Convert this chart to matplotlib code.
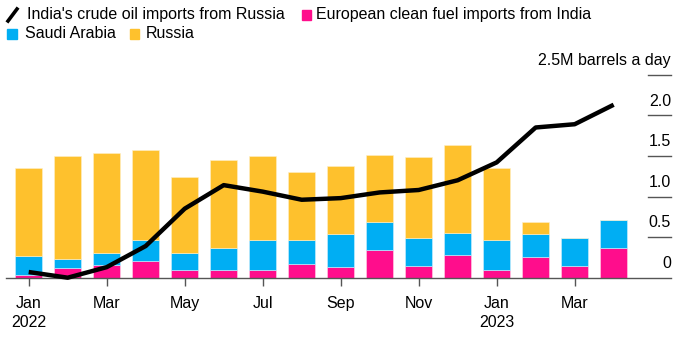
import matplotlib
matplotlib.use("Agg")
import matplotlib.pyplot as plt
import matplotlib.transforms as mtransforms
from matplotlib.lines import Line2D
from matplotlib.patches import Rectangle
import numpy as np

plt.rcParams['font.family'] = ['Liberation Sans', 'DejaVu Sans']

months = ['Jan 2022', 'Feb', 'Mar', 'Apr', 'May', 'Jun', 'Jul', 'Aug', 'Sep',
          'Oct', 'Nov', 'Dec', 'Jan 2023', 'Feb', 'Mar', 'Apr']
# million barrels a day
india_clean = [0.03, 0.12, 0.16, 0.20, 0.10, 0.09, 0.10, 0.17, 0.13, 0.34, 0.15, 0.28, 0.10, 0.25, 0.15, 0.36]
saudi = [0.24, 0.11, 0.15, 0.27, 0.21, 0.27, 0.36, 0.30, 0.41, 0.34, 0.34, 0.27, 0.36, 0.29, 0.34, 0.35]
russia = [1.08, 1.27, 1.22, 1.10, 0.93, 1.09, 1.04, 0.83, 0.83, 0.83, 1.00, 1.08, 0.89, 0.14, 0.0, 0.0]
india_crude_russia = [0.07, 0.00, 0.13, 0.39, 0.85, 1.14, 1.06, 0.96, 0.98, 1.05, 1.08, 1.20, 1.42, 1.85, 1.89, 2.13]

tick_pos = [0, 2, 4, 6, 8, 10, 12, 14]
tick_labels = ['Jan\n2022', 'Mar', 'May', 'Jul', 'Sep', 'Nov', 'Jan\n2023', 'Mar']
y_ticks = [0, 0.5, 1.0, 1.5, 2.0, 2.5]
y_labels = ['0', '0.5', '1.0', '1.5', '2.0', '2.5M barrels a day']

PINK = '#FF0D8C'
BLUE = '#00AEF3'
YELLOW = '#FEC12D'
FS = 11.5

W, H = 700, 338
fig = plt.figure(figsize=(7, 3.38), dpi=100)
ax = fig.add_axes([5.7 / W, 1 - 277.7 / H, 665.3 / W, 203 / H])

x = np.arange(len(months))
a = np.array(india_clean)
b = np.array(saudi)
c = np.array(russia)
ax.bar(x, a, width=0.7, color=PINK, edgecolor='#ffd6ea', linewidth=0.4, zorder=2)
ax.bar(x, b, width=0.7, bottom=a, color=BLUE, edgecolor='#d0f0ff', linewidth=0.4, zorder=2)
ax.bar(x, c, width=0.7, bottom=a + b, color=YELLOW, edgecolor='#fff0c8', linewidth=0.4, zorder=2)
ax.plot(x, india_crude_russia, color='black', lw=3.2, solid_joinstyle='round',
        solid_capstyle='butt', zorder=4, clip_on=False)

ax.set_xlim(-0.59, 16.47)
ax.set_ylim(0, 2.5)
for s in ['top', 'right', 'left']:
    ax.spines[s].set_visible(False)
ax.spines['bottom'].set_color('#555555')
ax.spines['bottom'].set_linewidth(1.0)
ax.set_yticks([])
ax.set_xticks(tick_pos)
ax.set_xticklabels(tick_labels, fontsize=FS, linespacing=1.3)
ax.tick_params(axis='x', length=6, width=1, color='#555555', pad=7.5)

trans = mtransforms.blended_transform_factory(ax.transAxes, ax.transData)
for v, lab in zip(y_ticks, y_labels):
    if v > 0:
        ax.plot([0.965, 1.0], [v, v], transform=trans, color='#555555', lw=1.0, clip_on=False)
    ax.annotate(lab, xy=(1.0, v), xycoords=trans, xytext=(0, 7), textcoords='offset points',
                ha='right', va='baseline', fontsize=FS)

# legend
def fx(px):
    return px / W

def fy(py):
    return 1 - py / H

fig.add_artist(Line2D([fx(8), fx(17)], [fy(21), fy(9)], color='black', lw=2.6))
fig.text(fx(27), fy(14.5), "India's crude oil imports from Russia", fontsize=FS, va='center')
fig.add_artist(Rectangle((fx(301.5), fy(19.5)), fx(9.5), 9.5 / H, color=PINK))
fig.text(fx(315.5), fy(14.5), 'European clean fuel imports from India', fontsize=FS, va='center')
fig.add_artist(Rectangle((fx(7), fy(38.5)), fx(9.5), 9.5 / H, color=BLUE))
fig.text(fx(24.5), fy(34), 'Saudi Arabia', fontsize=FS, va='center')
fig.add_artist(Rectangle((fx(129.5), fy(38.5)), fx(9.5), 9.5 / H, color=YELLOW))
fig.text(fx(145.5), fy(34), 'Russia', fontsize=FS, va='center')

fig.savefig('out.png', dpi=100)
